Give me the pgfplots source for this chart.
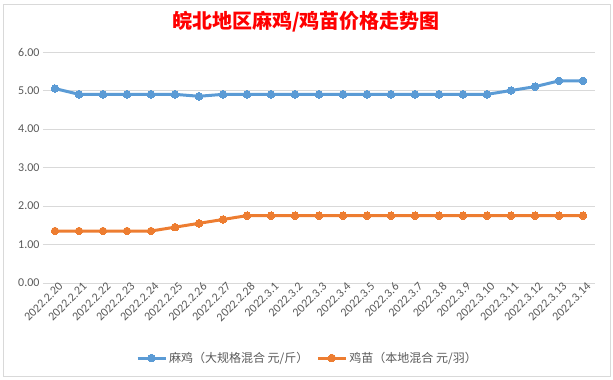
\documentclass[border=0pt]{standalone}
\usepackage{pgfplots}
\pgfplotsset{compat=1.18}
\usepackage{fontspec}
\setmainfont{Carlito}
\newfontfamily\cjk{Noto Sans CJK SC}
\definecolor{blueS}{HTML}{5B9BD5}
\definecolor{orangeS}{HTML}{ED7D31}
\definecolor{gridc}{HTML}{D9D9D9}
\definecolor{tickc}{HTML}{595959}
\begin{document}
\begin{tikzpicture}[x=1pt,y=1pt]
\path[use as bounding box] (0,0) rectangle (613,380);
\draw[gridc, line width=1pt] (3,3) rectangle (610,375);
\node[text=red, font=\cjk\bfseries\fontsize{20}{24}\selectfont] at (306,358) {皖北地区麻鸡/鸡苗价格走势图};
\begin{axis}[
  at={(43pt,97pt)}, anchor=south west,
  width=552pt, height=231pt, scale only axis,
  xmin=-0.5, xmax=22.5, ymin=0, ymax=6,
  ytick={0,1,2,3,4,5,6},
  xtick={0,...,22},
  xticklabels={2022.2.20,2022.2.21,2022.2.22,2022.2.23,2022.2.24,2022.2.25,2022.2.26,2022.2.27,2022.2.28,2022.3.1,2022.3.2,2022.3.3,2022.3.4,2022.3.5,2022.3.6,2022.3.7,2022.3.8,2022.3.9,2022.3.10,2022.3.11,2022.3.12,2022.3.13,2022.3.14},
  x tick label style={rotate=45, anchor=north east, inner sep=1pt, xshift=4pt},
  y tick label style={/pgf/number format/.cd, fixed, fixed zerofill, precision=2},
  /pgf/number format/assume math mode=true,
  tick label style={font=\fontsize{12}{14}\selectfont, text=tickc},
  axis line style={draw=none},
  major tick length=0pt,
  ymajorgrids, grid style={gridc, line width=0.75pt},
  legend columns=2,
  legend style={at={(0.479,-0.3247)}, anchor=center, draw=none, fill=none,
    font=\cjk\fontsize{12}{14}\selectfont, text=tickc,
    /tikz/every even column/.append style={column sep=6pt}},
  legend image code/.code={\draw[mark repeat=2,mark phase=2,#1] plot coordinates {(0pt,0pt) (14pt,0pt) (28pt,0pt)};},
]
\addplot[color=blueS, line width=3pt, mark=*, mark size=3.8pt, mark options={solid, line width=0pt, fill=blueS}] coordinates {
(0,5.05) (1,4.9) (2,4.9) (3,4.9) (4,4.9) (5,4.9) (6,4.85) (7,4.9) (8,4.9) (9,4.9) (10,4.9) (11,4.9) (12,4.9) (13,4.9) (14,4.9) (15,4.9) (16,4.9) (17,4.9) (18,4.9) (19,5.0) (20,5.1) (21,5.25) (22,5.25)};
\addlegendentry{麻鸡（大规格混合 元/斤）}
\addplot[color=orangeS, line width=3pt, mark=*, mark size=3.8pt, mark options={solid, line width=0pt, fill=orangeS}] coordinates {
(0,1.35) (1,1.35) (2,1.35) (3,1.35) (4,1.35) (5,1.45) (6,1.55) (7,1.65) (8,1.75) (9,1.75) (10,1.75) (11,1.75) (12,1.75) (13,1.75) (14,1.75) (15,1.75) (16,1.75) (17,1.75) (18,1.75) (19,1.75) (20,1.75) (21,1.75) (22,1.75)};
\addlegendentry{鸡苗（本地混合 元/羽）}
\end{axis}
\end{tikzpicture}
\end{document}
